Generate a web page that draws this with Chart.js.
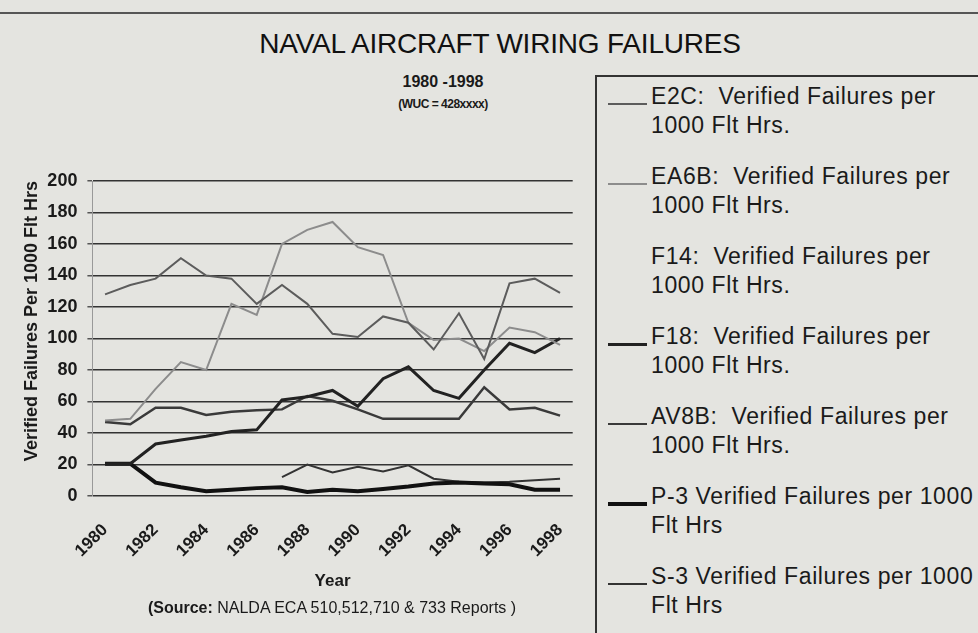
<!DOCTYPE html>
<html>
<head>
<meta charset="utf-8">
<script src="https://cdn.jsdelivr.net/npm/chart.js@4/dist/chart.umd.min.js"></script>
<style>
  body { margin: 0; background: #e4e4e0; font-family: 'Liberation Sans', Arial, sans-serif; color: #1a1a1a; }
  #page { position: relative; width: 978px; height: 633px; overflow: hidden; }
  #topRule { position: absolute; left: 0; top: 12px; width: 978px; border-top: 2px solid #555; }
  #title { position: absolute; left: 0; width: 1000px; top: 28px; text-align: center; font-size: 28px; letter-spacing: -0.2px; color: #111; }
  #sub1 { position: absolute; left: 343px; width: 200px; top: 73px; text-align: center; font-size: 16px; font-weight: bold; }
  #sub2 { position: absolute; left: 343px; width: 200px; top: 97px; text-align: center; font-size: 12px; font-weight: bold; letter-spacing: -0.5px; }
  #source { position: absolute; left: 132px; width: 400px; top: 599px; text-align: center; font-size: 16px; white-space: nowrap; }
  #chart { position: absolute; left: 0; top: 0; }
  #legendBox { position: absolute; left: 595px; top: 75px; width: 420px; height: 600px; border: 2.5px solid #333; box-sizing: border-box; }
  .item { position: absolute; left: 0; width: 420px; height: 60px; }
  .sample { position: absolute; left: 11px; width: 39px; height: 0; }
  .txt { position: absolute; left: 54px; top: 0; font-size: 23px; line-height: 29px; white-space: pre; letter-spacing: 0.6px; }
</style>
</head>
<body>
<div id="page">
  <div id="topRule"></div>
  <div id="title">NAVAL AIRCRAFT WIRING FAILURES</div>
  <div id="sub1">1980 -1998</div>
  <div id="sub2">(WUC = 428xxxx)</div>
  <canvas id="chart" width="590" height="633"></canvas>
  <div id="source"><b>(Source:</b> NALDA ECA 510,512,710 &amp; 733 Reports )</div>
  <div id="legendBox"></div>
</div>
<script>
// years on the x axis
const years = ['1980','1981','1982','1983','1984','1985','1986','1987','1988','1989',
               '1990','1991','1992','1993','1994','1995','1996','1997','1998'];

// verified failures per 1000 flight hours
const e2c  = [128, 134, 138, 151, 140, 138, 122, 134, 122, 103, 101, 114, 110, 93, 116, 87, 135, 138, 129];
const ea6b = [48, 49, 68, 85, 80, 122, 115, 160, 169, 174, 158, 153, 110, 99, 100, 92, 107, 104, 96];
const f14  = [];
const f18  = [20.5, 20.5, 33, 35.5, 38, 41, 42, 61, 63, 67, 57, 74.5, 82, 67, 62, 80, 97, 91, 100];
const av8b = [47, 45.5, 56, 56, 51.5, 53.5, 54.5, 55, 63.5, 60.5, 55, 49, 49, 49, 49, 69, 55, 56, 51];
const p3   = [20.5, 20.5, 8.5, 5.5, 3, 4, 5, 5.5, 2.5, 4, 3, 4.5, 6, 8, 8.5, 8, 7.5, 4, 4];
const s3   = [null, null, null, null, null, null, null, 12, 20, 15, 18.5, 15.5, 19.5, 11, 9, 8.5, 9, 10, 11];

const seriesNames = [
  'E2C:  Verified Failures per\n1000 Flt Hrs.',
  'EA6B:  Verified Failures per\n1000 Flt Hrs.',
  'F14:  Verified Failures per\n1000 Flt Hrs.',
  'F18:  Verified Failures per\n1000 Flt Hrs.',
  'AV8B:  Verified Failures per\n1000 Flt Hrs.',
  'P-3 Verified Failures per 1000\nFlt Hrs',
  'S-3 Verified Failures per 1000\nFlt Hrs'
];
const yTicks = [0, 20, 40, 60, 80, 100, 120, 140, 160, 180, 200];

const seriesData = [e2c, ea6b, f14, f18, av8b, p3, s3];
const colors = ['#5c5c5c', '#8c8c8c', 'rgba(0,0,0,0)', '#222', '#3a3a3a', '#111', '#333'];
const widths = [2, 2, 2, 3, 2.5, 4, 2];

const ctx = document.getElementById('chart').getContext('2d');
const chart = new Chart(ctx, {
  type: 'line',
  data: {
    labels: years,
    datasets: seriesData.map((d, i) => ({
      label: seriesNames[i].replace('\n', ' '),
      data: d,
      borderColor: colors[i],
      backgroundColor: colors[i],
      borderWidth: widths[i],
      pointRadius: 0,
      tension: 0,
      fill: false
    }))
  },
  options: {
    responsive: false,
    animation: false,
    layout: { padding: { top: 181, right: 17.3, bottom: 37, left: 0 } },
    plugins: { legend: { display: false }, tooltip: { enabled: false } },
    scales: {
      x: {
        offset: true,
        grid: { display: false, drawTicks: false },
        border: { display: false },
        ticks: {
          autoSkip: false,
          minRotation: 45, maxRotation: 45,
          padding: 24,
          color: '#1a1a1a',
          font: { family: "'Liberation Sans', Arial, sans-serif", size: 17, weight: 'bold' },
          callback: function(v, i) { return i % 2 === 0 ? years[i] : ''; }
        },
        title: {
          display: true, text: 'Year', color: '#1a1a1a',
          padding: { top: 0, bottom: 4 },
          font: { family: "'Liberation Sans', Arial, sans-serif", size: 17, weight: 'bold' }
        },
        afterFit: s => { s.height = 100; s.paddingLeft = 0; s.paddingRight = 0; }
      },
      y: {
        min: 0, max: 200,
        afterBuildTicks: s => { s.ticks = yTicks.map(v => ({ value: v })); },
        grid: { color: '#333', lineWidth: 1.5, tickLength: 5, tickColor: '#555' },
        border: { display: true, color: '#999', width: 1 },
        ticks: {
          padding: 10,
          color: '#1a1a1a',
          font: { family: "'Liberation Sans', Arial, sans-serif", size: 18, weight: 'bold' }
        },
        title: {
          display: true, align: 'end', color: '#1a1a1a',
          text: 'Verified Failures Per 1000 Flt Hrs',
          padding: { top: 21, bottom: 0 },
          font: { family: "'Liberation Sans', Arial, sans-serif", size: 18, weight: 'bold' }
        },
        afterFit: s => { s.width = 92.4; s.paddingTop = 0; s.paddingBottom = 0; }
      }
    }
  }
});

// html legend built from the chart's datasets
const box = document.getElementById('legendBox');
chart.data.datasets.forEach((ds, i) => {
  const item = document.createElement('div');
  item.className = 'item';
  item.style.top = (5 + i * 80) + 'px';
  const line = document.createElement('div');
  line.className = 'sample';
  line.style.borderTop = ds.borderWidth + 'px solid ' + ds.borderColor;
  line.style.top = (22 - ds.borderWidth / 2) + 'px';
  const txt = document.createElement('div');
  txt.className = 'txt';
  txt.textContent = seriesNames[i];
  item.appendChild(line);
  item.appendChild(txt);
  box.appendChild(item);
});
</script>
</body>
</html>
